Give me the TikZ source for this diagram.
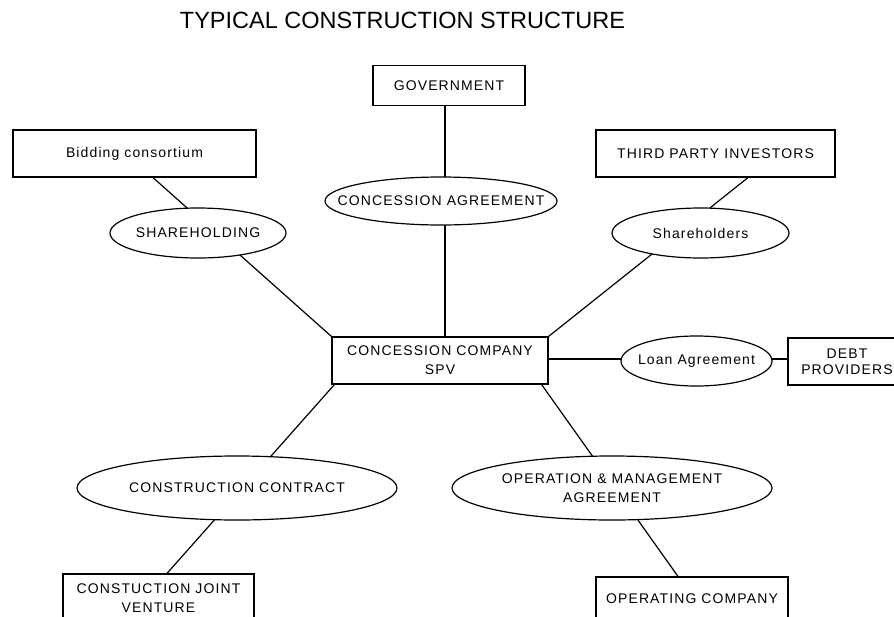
\documentclass[tikz,border=0pt]{standalone}
\usepackage{fontspec}
\setmainfont{Liberation Sans}
\newfontfamily\spacedfont[LetterSpace=8]{Liberation Sans}
\usetikzlibrary{shapes.geometric,backgrounds}
\begin{document}
\begin{tikzpicture}[x=1pt,y=-1pt,
  lbl/.style={font=\spacedfont\fontsize{14}{19}\selectfont, align=center, inner sep=0pt},
  boxnode/.style={lbl, draw, line width=1.2pt, fill=white},
  ellnode/.style={ellipse, draw, line width=1.2pt, fill=white, inner sep=0pt},
  link/.style={line width=1.2pt}]
\useasboundingbox (0,0) rectangle (894,616);

\node[font=\fontsize{23.5}{28}\selectfont, inner sep=0pt] (title) at (402.5,20.5) {TYPICAL CONSTRUCTION STRUCTURE};

\node[boxnode, minimum width=152, minimum height=40] (gov) at (449,85.5) {GOVERNMENT};
\node[boxnode, minimum width=243, minimum height=47] (bid) at (134.5,153.5) {Bidding consortium};
\node[boxnode, minimum width=239, minimum height=47] (tpi) at (715.5,153.5) {THIRD PARTY INVESTORS};
\node[boxnode, minimum width=216, minimum height=47] (spv) at (440,360.5) {CONCESSION COMPANY\\SPV};
\node[boxnode, minimum width=118, minimum height=47, font=\spacedfont\fontsize{14}{15.5}\selectfont] (debt) at (847,361.5) {DEBT\\PROVIDERS};
\node[boxnode, minimum width=191, minimum height=48] (cjv) at (158.5,598) {CONSTUCTION JOINT\\VENTURE};
\node[boxnode, minimum width=192, minimum height=44] (oc) at (692,599) {OPERATING COMPANY};

\node[ellnode, minimum width=232, minimum height=48, label={[lbl]center:CONCESSION AGREEMENT}] (ca) at (441,201) {};
\node[ellnode, minimum width=176, minimum height=50, label={[lbl]center:SHAREHOLDING}] (sh) at (198,233) {};
\node[ellnode, minimum width=177, minimum height=50, label={[lbl]center:Shareholders}] (shs) at (700.5,233) {};
\node[ellnode, minimum width=151, minimum height=50, label={[lbl]center:Loan Agreement}] (loan) at (696.5,361) {};
\node[ellnode, minimum width=320, minimum height=64, label={[lbl]center:CONSTRUCTION CONTRACT}] (cc) at (237,488) {};
\node[ellnode, minimum width=320, minimum height=64, label={[lbl]center:OPERATION \& MANAGEMENT\\AGREEMENT}] (om) at (612,488) {};

\begin{scope}[on background layer]
\draw[link] ([xshift=-4]gov.south) -- ([xshift=-4]gov.south |- spv.north);
\draw[link] ([xshift=18.5]bid.south) -- (spv.north west);
\draw[link] ([xshift=32.5]tpi.south) -- (spv.north east);
\draw[link] ([xshift=3]spv.south west) -- ([xshift=8.5]cjv.north);
\draw[link] ([xshift=-7]spv.south east) -- ([xshift=-14]oc.north);
\draw[link] ([yshift=1.5]spv.east) -- ([yshift=1.5]spv.east -| debt.west);
\end{scope}
\end{tikzpicture}
\end{document}
